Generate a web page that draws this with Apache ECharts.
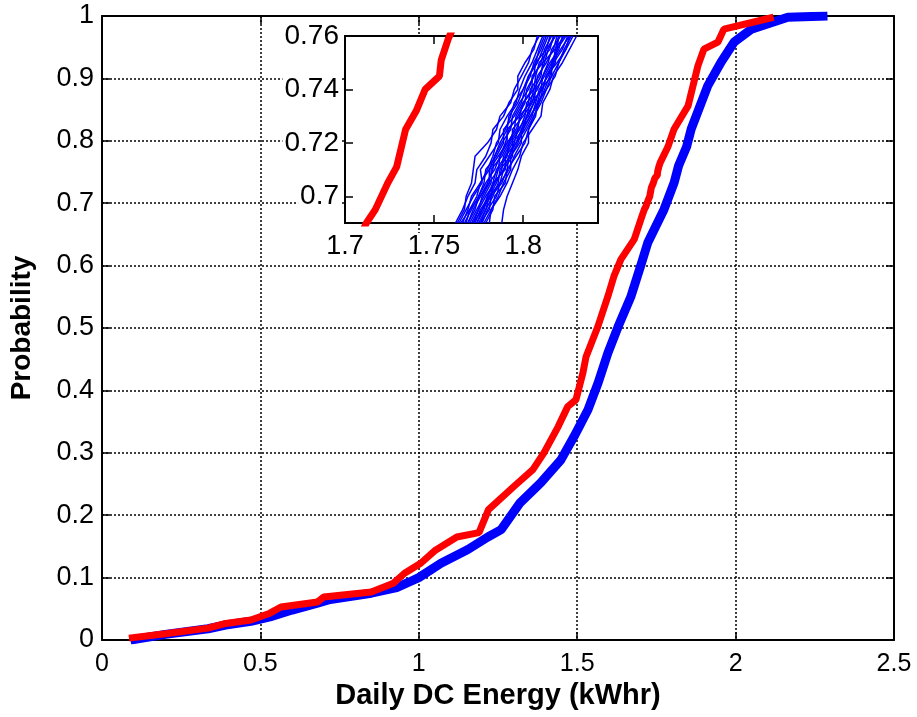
<!DOCTYPE html>
<html>
<head>
<meta charset="utf-8">
<script src="https://cdn.jsdelivr.net/npm/echarts@6/dist/echarts.min.js"></script>
<style>
  html, body { margin: 0; padding: 0; background: #fff; }
  #chart { width: 917px; height: 717px; }
</style>
</head>
<body>
<div id="chart"></div>
<script>
// measured CDF (red) and simulated CDF (blue), [energy kWhr, probability]
const redCdf = [
  [0.085, 0.003], [0.2, 0.01], [0.335, 0.019], [0.385, 0.026], [0.47, 0.032],
  [0.53, 0.043], [0.565, 0.053], [0.68, 0.061], [0.70, 0.069], [0.85, 0.077],
  [0.92, 0.091], [0.955, 0.107], [1.006, 0.123], [1.05, 0.143], [1.12, 0.165],
  [1.19, 0.172], [1.22, 0.209], [1.30, 0.246], [1.36, 0.273], [1.395, 0.30],
  [1.44, 0.342], [1.47, 0.374], [1.496, 0.385], [1.518, 0.428], [1.528, 0.454],
  [1.565, 0.502], [1.597, 0.551], [1.616, 0.583], [1.638, 0.61], [1.68, 0.642],
  [1.705, 0.68], [1.712, 0.69], [1.717, 0.695], [1.724, 0.705], [1.729, 0.711],
  [1.734, 0.725], [1.740, 0.732], [1.745, 0.74], [1.753, 0.745], [1.754, 0.751],
  [1.758, 0.759], [1.762, 0.765], [1.786, 0.79], [1.806, 0.819], [1.85, 0.856],
  [1.881, 0.92], [1.90, 0.947], [1.944, 0.958], [1.963, 0.979], [2.12, 0.998]
]
const blueCdf = [
  [0.09, 0.0], [0.2, 0.009], [0.335, 0.018], [0.39, 0.024], [0.47, 0.030],
  [0.53, 0.037], [0.6, 0.048], [0.68, 0.059], [0.72, 0.065], [0.85, 0.075],
  [0.93, 0.084], [0.97, 0.093], [1.0, 0.10], [1.07, 0.123], [1.155, 0.145],
  [1.218, 0.165], [1.26, 0.177], [1.32, 0.22], [1.385, 0.252], [1.449, 0.289],
  [1.49, 0.326], [1.534, 0.369], [1.566, 0.412], [1.597, 0.46], [1.629, 0.502],
  [1.67, 0.551], [1.70, 0.599], [1.723, 0.637], [1.774, 0.69], [1.806, 0.733],
  [1.82, 0.76], [1.845, 0.79], [1.86, 0.819], [1.912, 0.888], [1.954, 0.926],
  [1.995, 0.958], [2.05, 0.979], [2.165, 0.998], [2.29, 1.0]
]

// inset: individual simulation runs, x at each probability level
const insetLevels = [0.69, 0.695, 0.70, 0.705, 0.71, 0.715, 0.72, 0.725, 0.73, 0.735, 0.74, 0.745, 0.75, 0.755, 0.76]
const insetRuns = [
  [1.762, 1.766, 1.769, 1.773, 1.774, 1.779, 1.782, 1.783, 1.789, 1.792, 1.797, 1.797, 1.801, 1.806, 1.808],
  [1.763, 1.767, 1.768, 1.771, 1.772, 1.773, 1.780, 1.785, 1.787, 1.793, 1.795, 1.799, 1.803, 1.805, 1.809],
  [1.764, 1.768, 1.772, 1.777, 1.776, 1.781, 1.786, 1.787, 1.791, 1.796, 1.798, 1.801, 1.805, 1.808, 1.811],
  [1.765, 1.770, 1.774, 1.776, 1.781, 1.784, 1.787, 1.791, 1.792, 1.797, 1.800, 1.803, 1.807, 1.809, 1.812],
  [1.766, 1.769, 1.771, 1.776, 1.780, 1.783, 1.785, 1.790, 1.793, 1.795, 1.800, 1.804, 1.806, 1.810, 1.813],
  [1.767, 1.771, 1.775, 1.778, 1.779, 1.785, 1.789, 1.789, 1.795, 1.799, 1.801, 1.803, 1.808, 1.811, 1.814],
  [1.768, 1.770, 1.776, 1.780, 1.783, 1.784, 1.788, 1.793, 1.794, 1.798, 1.803, 1.806, 1.807, 1.813, 1.815],
  [1.769, 1.773, 1.775, 1.779, 1.784, 1.787, 1.790, 1.792, 1.797, 1.801, 1.802, 1.806, 1.810, 1.812, 1.816],
  [1.769, 1.772, 1.776, 1.781, 1.781, 1.786, 1.791, 1.791, 1.798, 1.800, 1.805, 1.805, 1.811, 1.813, 1.818],
  [1.770, 1.774, 1.778, 1.782, 1.782, 1.788, 1.792, 1.795, 1.796, 1.800, 1.806, 1.807, 1.809, 1.815, 1.817],
  [1.771, 1.775, 1.777, 1.781, 1.786, 1.787, 1.791, 1.796, 1.799, 1.803, 1.804, 1.809, 1.812, 1.814, 1.818],
  [1.772, 1.777, 1.780, 1.783, 1.785, 1.790, 1.794, 1.794, 1.800, 1.805, 1.807, 1.808, 1.813, 1.817, 1.819],
  [1.772, 1.775, 1.779, 1.784, 1.786, 1.791, 1.792, 1.797, 1.798, 1.804, 1.806, 1.810, 1.811, 1.818, 1.820],
  [1.773, 1.776, 1.781, 1.785, 1.788, 1.789, 1.793, 1.798, 1.801, 1.802, 1.808, 1.811, 1.814, 1.816, 1.821],
  [1.774, 1.778, 1.780, 1.784, 1.789, 1.792, 1.795, 1.797, 1.803, 1.806, 1.807, 1.812, 1.816, 1.819, 1.820],
  [1.774, 1.777, 1.782, 1.783, 1.790, 1.790, 1.796, 1.799, 1.802, 1.804, 1.811, 1.813, 1.817, 1.818, 1.823],
  [1.775, 1.779, 1.783, 1.786, 1.787, 1.793, 1.797, 1.800, 1.802, 1.806, 1.810, 1.811, 1.815, 1.820, 1.822],
  [1.776, 1.781, 1.782, 1.788, 1.791, 1.792, 1.796, 1.801, 1.805, 1.807, 1.809, 1.814, 1.818, 1.819, 1.824],
  [1.776, 1.779, 1.781, 1.787, 1.789, 1.794, 1.794, 1.800, 1.804, 1.808, 1.810, 1.816, 1.816, 1.821, 1.826],
  [1.777, 1.780, 1.785, 1.787, 1.792, 1.795, 1.799, 1.799, 1.804, 1.809, 1.812, 1.815, 1.817, 1.822, 1.825],
  [1.778, 1.782, 1.786, 1.789, 1.793, 1.793, 1.798, 1.802, 1.806, 1.809, 1.811, 1.813, 1.819, 1.824, 1.826],
  [1.779, 1.783, 1.784, 1.790, 1.791, 1.796, 1.801, 1.803, 1.807, 1.808, 1.813, 1.818, 1.820, 1.823, 1.827],
  [1.781, 1.782, 1.787, 1.791, 1.794, 1.798, 1.800, 1.805, 1.810, 1.811, 1.815, 1.817, 1.822, 1.826, 1.830],
  [1.788, 1.789, 1.791, 1.794, 1.797, 1.799, 1.803, 1.803, 1.806, 1.810, 1.813, 1.816, 1.820, 1.824, 1.828]
]

const insetXTicks = [1.7, 1.75, 1.8]
const insetYTicks = [0.70, 0.72, 0.74, 0.76]

const FONT = '"Liberation Sans", Arial, sans-serif'
const fmt = v => String(parseFloat(Number(v).toFixed(3)))

const chart = echarts.init(document.getElementById('chart'))

const boxAxis = (extra) => Object.assign({
  type: 'value',
  axisLine: { show: true, onZero: false, lineStyle: { color: '#000', width: 2 } },
  axisTick: { show: true, inside: true, length: 8, lineStyle: { color: '#000', width: 1.5 } },
  axisLabel: { show: false },
  splitLine: { show: false },
}, extra)

const dotted = { show: true, lineStyle: { color: '#000', width: 1.5, type: [2, 2] } }

const insetSeries = insetRuns.map((run, i) => ({
  name: 'run' + i,
  type: 'line',
  xAxisIndex: 2,
  yAxisIndex: 2,
  showSymbol: false,
  z: 12,
  lineStyle: { color: '#0000ff', width: 1.5 },
  data: run.map((x, k) => [x, insetLevels[k]]),
}))

chart.setOption({
  animation: false,
  backgroundColor: '#fff',
  textStyle: { fontFamily: FONT },
  grid: [
    { left: 101, top: 16, right: 23, bottom: 77, show: false },
    { left: 345, top: 36, width: 253, height: 187, show: true, z: 10,
      backgroundColor: '#fff', borderColor: '#000', borderWidth: 2 },
  ],
  xAxis: [
    boxAxis({
      gridIndex: 0, position: 'bottom', min: 0, max: 2.5, interval: 0.5,
      axisLabel: { show: true, color: '#000', fontSize: 25, margin: 12, fontFamily: FONT, formatter: fmt },
      splitLine: dotted,
      name: 'Daily DC Energy (kWhr)',
      nameLocation: 'middle',
      nameGap: 36,
      nameTextStyle: { color: '#000', fontSize: 29, fontWeight: 'bold', fontFamily: FONT },
    }),
    boxAxis({ gridIndex: 0, position: 'top', min: 0, max: 2.5, interval: 0.5 }),
    boxAxis({
      gridIndex: 1, position: 'bottom', min: 1.7, max: 1.842, z: 10,
      axisTick: { show: true, inside: true, length: 8, customValues: insetXTicks, lineStyle: { color: '#000', width: 1.5 } },
      axisLabel: { show: true, color: '#000', fontSize: 27, margin: 10, fontFamily: FONT,
        customValues: insetXTicks, formatter: fmt, backgroundColor: '#fff', padding: [0, 2] },
    }),
    boxAxis({
      gridIndex: 1, position: 'top', min: 1.7, max: 1.842, z: 10,
      axisTick: { show: true, inside: true, length: 8, customValues: insetXTicks, lineStyle: { color: '#000', width: 1.5 } },
    }),
  ],
  yAxis: [
    boxAxis({
      gridIndex: 0, position: 'left', min: 0, max: 1, interval: 0.1,
      axisLabel: { show: true, color: '#000', fontSize: 27, margin: 8, fontFamily: FONT, formatter: fmt },
      splitLine: dotted,
      name: 'Probability',
      nameLocation: 'middle',
      nameGap: 66,
      nameTextStyle: { color: '#000', fontSize: 28, fontWeight: 'bold', fontFamily: FONT },
    }),
    boxAxis({ gridIndex: 0, position: 'right', min: 0, max: 1, interval: 0.1 }),
    boxAxis({
      gridIndex: 1, position: 'left', min: 0.69, max: 0.76, z: 10,
      axisTick: { show: true, inside: true, length: 8, customValues: insetYTicks, lineStyle: { color: '#000', width: 1.5 } },
      axisLabel: { show: true, color: '#000', fontSize: 28, margin: 4, fontFamily: FONT,
        customValues: insetYTicks, formatter: fmt, backgroundColor: '#fff', padding: [0, 2] },
    }),
    boxAxis({
      gridIndex: 1, position: 'right', min: 0.69, max: 0.76, z: 10,
      axisTick: { show: true, inside: true, length: 8, customValues: insetYTicks, lineStyle: { color: '#000', width: 1.5 } },
    }),
  ],
  series: [
    {
      name: 'simulated',
      type: 'line',
      xAxisIndex: 0,
      yAxisIndex: 0,
      showSymbol: false,
      z: 3,
      lineStyle: { color: '#0000ff', width: 9 },
      data: blueCdf,
    },
    {
      name: 'measured',
      type: 'line',
      xAxisIndex: 0,
      yAxisIndex: 0,
      showSymbol: false,
      z: 4,
      lineStyle: { color: '#ff0000', width: 7 },
      data: redCdf,
    },
    ...insetSeries,
    {
      name: 'measured inset',
      type: 'line',
      xAxisIndex: 2,
      yAxisIndex: 2,
      showSymbol: false,
      z: 13,
      lineStyle: { color: '#ff0000', width: 7 },
      data: redCdf,
    },
  ],
})
</script>
</body>
</html>
